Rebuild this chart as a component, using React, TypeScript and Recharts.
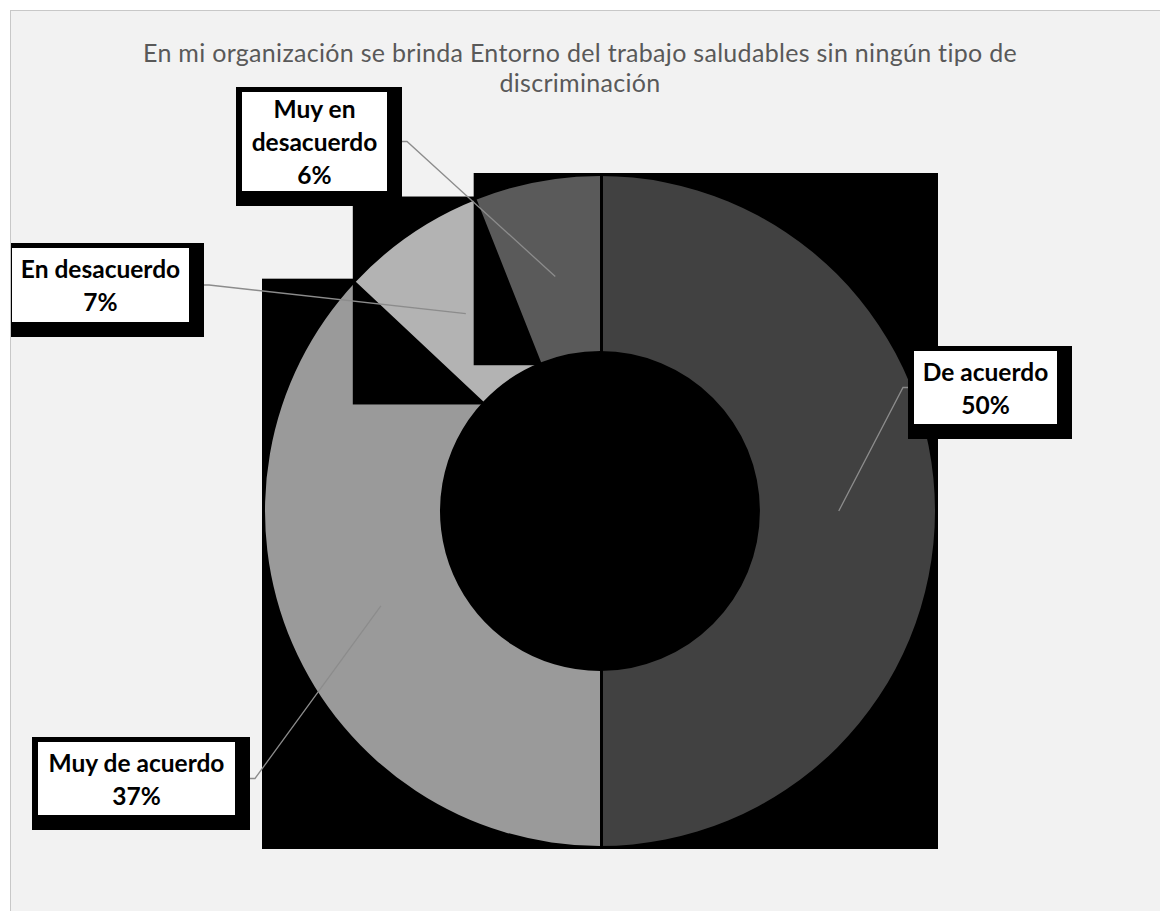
import React from 'react';
import { PieChart, Pie, Sector, Cell } from 'recharts';

const CATEGORIES = ['De acuerdo', 'Muy de acuerdo', 'En desacuerdo', 'Muy en desacuerdo'];
const PERCENTS = [50, 37, 7, 6];
const COLORS = ['#414141', '#9a9a9a', '#b3b3b3', '#5a5a5a'];

const TITLE_LINES = ['En mi organización se brinda Entorno del trabajo saludables sin ningún tipo de', 'discriminación'];

const data = CATEGORIES.map((name, i) => ({ name, value: PERCENTS[i] }));

// label boxes (white area), placed by hand like the original
const LABEL_BOX: Record<string, { x: number; y: number; w: number; h: number; side: 'left' | 'right'; wrap?: boolean }> = {
  'De acuerdo': { x: 914, y: 351, w: 143, h: 73, side: 'left' },
  'Muy de acuerdo': { x: 38, y: 742, w: 197, h: 73, side: 'right' },
  'En desacuerdo': { x: 12, y: 248, w: 177, h: 74, side: 'right' },
  'Muy en desacuerdo': { x: 242, y: 92, w: 145, h: 99, side: 'right', wrap: true },
};

const RADIAN = Math.PI / 180;
const polar = (cx: number, cy: number, r: number, a: number) => ({
  x: cx + r * Math.cos(-a * RADIAN),
  y: cy + r * Math.sin(-a * RADIAN),
});

// each slice paints a black box over its own bounds first (the old export looked like that)
const SliceShape = (props: any) => {
  const { cx, cy, innerRadius, outerRadius, startAngle, endAngle, fill } = props;
  const lo = Math.min(startAngle, endAngle);
  const hi = Math.max(startAngle, endAngle);
  const pts = [
    polar(cx, cy, innerRadius, lo),
    polar(cx, cy, innerRadius, hi),
    polar(cx, cy, outerRadius, lo),
    polar(cx, cy, outerRadius, hi),
  ];
  for (let k = Math.ceil(lo / 90); k <= Math.floor(hi / 90); k++) {
    pts.push(polar(cx, cy, outerRadius, k * 90));
  }
  const xs = pts.map((p) => p.x);
  const ys = pts.map((p) => p.y);
  const pad = 3;
  const x0 = Math.min(...xs) - pad;
  const y0 = Math.min(...ys) - pad;
  const x1 = Math.max(...xs) + pad;
  const y1 = Math.max(...ys) + pad;
  return (
    <g>
      <rect x={x0} y={y0} width={x1 - x0} height={y1 - y0} fill="#000" />
      <Sector
        cx={cx}
        cy={cy}
        innerRadius={innerRadius}
        outerRadius={outerRadius}
        startAngle={startAngle}
        endAngle={endAngle}
        fill={fill}
        stroke="none"
      />
    </g>
  );
};

const renderLabel = (props: any) => {
  const { cx, cy, midAngle, innerRadius, outerRadius, payload, percent } = props;
  const name = payload?.name ?? props.name;
  const box = LABEL_BOX[name];
  if (!box) return null;
  const r = innerRadius + (outerRadius - innerRadius) * 0.45;
  const a = polar(cx, cy, r, midAngle);
  const midY = box.y + box.h / 2;
  const edgeX = box.side === 'left' ? box.x - 6 : box.x + box.w + 15;
  const stubX = box.side === 'left' ? edgeX - 5 : edgeX + 5;
  let lines = [name];
  if (box.wrap) {
    const cut = name.lastIndexOf(' ');
    lines = [name.slice(0, cut), name.slice(cut + 1)];
  }
  lines.push(`${Math.round(percent * 100)}%`);
  const step = 33;
  const firstY = midY - ((lines.length - 1) * step) / 2;
  return (
    <g>
      <polyline points={`${a.x},${a.y} ${stubX},${midY} ${edgeX},${midY}`} fill="none" stroke="#8c8c8c" strokeWidth={1.3} />
      <rect x={box.x - 6} y={box.y - 5} width={box.w + 21} height={box.h + 20} fill="#000" />
      <rect x={box.x} y={box.y} width={box.w} height={box.h} fill="#fff" />
      <text
        x={box.x + box.w / 2}
        textAnchor="middle"
        fontFamily="Lato"
        fontWeight="bold"
        fontSize={24.5}
        fill="#000"
      >
        {lines.map((t, i) => (
          <tspan key={i} x={box.x + box.w / 2} y={firstY + i * step} dominantBaseline="central">
            {t}
          </tspan>
        ))}
      </text>
    </g>
  );
};

export default function App() {
  return (
    <div style={{ position: 'fixed', left: 0, top: 0, width: 1160, height: 911, overflow: 'hidden', background: '#fff' }}>
      <div
        style={{
          position: 'absolute',
          left: 10,
          top: 10,
          width: 1170,
          height: 920,
          background: '#f2f2f2',
          border: '1px solid #c8c8c8',
          overflow: 'hidden',
        }}
      >
        <div style={{ position: 'absolute', left: -11, top: -11 }}>
          <PieChart width={1160} height={911} margin={{ top: 0, right: 0, bottom: 0, left: 0 }}>
            <Pie
              data={data}
              dataKey="value"
              nameKey="name"
              cx={600}
              cy={511}
              innerRadius={160}
              outerRadius={335}
              startAngle={90}
              endAngle={-270}
              stroke="none"
              shape={SliceShape}
              label={renderLabel}
              labelLine={false}
              isAnimationActive={false}
            >
              {data.map((_entry, index) => (
                <Cell key={`cell-${index}`} fill={COLORS[index % COLORS.length]} />
              ))}
            </Pie>
          </PieChart>
        </div>
        <div
          style={{
            position: 'absolute',
            left: -11,
            top: 26,
            width: 1160,
            textAlign: 'center',
            fontFamily: 'Lato',
            fontSize: 25,
            letterSpacing: 0.3,
            lineHeight: '30px',
            color: '#595959',
            pointerEvents: 'none',
          }}
        >
          {TITLE_LINES.map((t, i) => (
            <div key={i} style={{ position: 'relative', left: 0 }}>{t}</div>
          ))}
        </div>
      </div>
    </div>
  );
}
